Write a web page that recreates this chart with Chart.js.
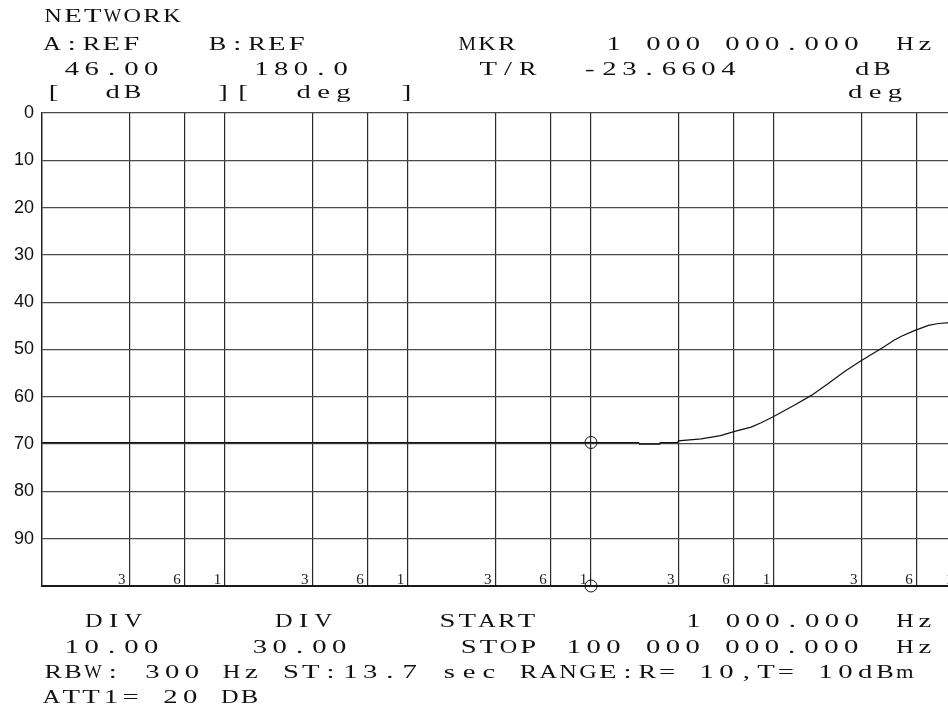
<!DOCTYPE html>
<html>
<head>
<meta charset="utf-8">
<title>NETWORK</title>
<script src="https://cdn.jsdelivr.net/npm/chart.js@4.4.1/dist/chart.umd.min.js"></script>
<style>
  html, body { margin: 0; padding: 0; background: #fff; overflow: hidden; }
  body { width: 948px; height: 711px; position: relative; }
  #wrap { position: absolute; left: 0; top: 0; width: 957px; height: 711px; }
  #plot { display: block; width: 957px; height: 711px; }
</style>
</head>
<body>
<div id="wrap"><canvas id="plot" width="957" height="711"></canvas></div>
<script>
// ---- instrument readouts ----
const REF_A = 46.00;          // dB
const REF_B = 180.0;          // deg
const DIV_A = 10.00;
const DIV_B = 30.00;
const MKR_FREQ = 1000000;     // Hz
const MKR_VALUE = -23.6604;   // dB (T/R)
const START_HZ = 1000;
const STOP_HZ = 100000000;

// ---- trace (frequency in Hz, level in screen units 0..100, downward) ----
const freqHz = [1e3, 1.82e6, 1.84e6, 2.37e6, 2.39e6, 2.98e6, 3.0e6, 4.0e6, 5.1e6, 6.1e6,
                7.5e6, 8.5e6, 9.9e6, 1.29e7, 1.6e7, 1.98e7, 2.42e7, 2.93e7, 3.53e7, 3.86e7,
                4.55e7, 4.97e7, 5.85e7, 6.98e7, 7.92e7, 9.1e7, 1e8];
const traceLevel = [69.7, 69.7, 70.0, 70.0, 69.7, 69.7, 69.3, 68.9, 68.2, 67.3,
                    66.4, 65.5, 64.2, 61.8, 59.7, 57.2, 54.7, 52.6, 50.7, 49.8,
                    48.0, 47.2, 46.0, 44.9, 44.5, 44.3, 44.2];

// ---- axes ----
const yTickLabels = ['0', '10', '20', '30', '40', '50', '60', '70', '80', '90'];
const gridFreqs = [3e3, 6e3, 1e4, 3e4, 6e4, 1e5, 3e5, 6e5, 1e6, 3e6, 6e6, 1e7, 3e7, 6e7, 1e8];

const tracePoints = freqHz.map((f, i) => ({ x: f, y: traceLevel[i] }));
const markerLevel = REF_A - MKR_VALUE;
const markerPoints = [{ x: MKR_FREQ, y: markerLevel }, { x: MKR_FREQ, y: 100 }];

function fmtHz(v) {
  const s = String(Math.round(v));
  const groups = [];
  for (let i = s.length; i > 0; i -= 3) groups.unshift(s.slice(Math.max(0, i - 3), i));
  return groups.join(' ') + '.000';
}

// readout panel: [text, centre x, baseline y]
const panel = [
  ['NETWORK', 112.5, 22],
  ['A:REF', 91.5, 50], ['B:REF', 257, 50], ['MKR', 487, 50],
  [fmtHz(MKR_FREQ), 732.5, 50], ['Hz', 915, 50],
  [REF_A.toFixed(2), 111.5, 75], [REF_B.toFixed(1), 301, 75], ['T/R', 508, 75],
  [MKR_VALUE.toFixed(4), 659, 75], ['dB', 872, 75],
  ['[', 53.5, 98], ['dB', 122.5, 98], ['][', 233, 98], ['deg', 323.5, 98],
  [']', 406.5, 98], ['deg', 875, 98],
  ['DIV', 113.5, 627], ['DIV', 303.5, 627], ['START', 487, 627],
  [fmtHz(START_HZ), 772.5, 627], ['Hz', 915, 627],
  [DIV_A.toFixed(2), 111.5, 653], [DIV_B.toFixed(2), 299.5, 653], ['STOP', 498.5, 653],
  [fmtHz(STOP_HZ), 712.5, 653], ['Hz', 915, 653],
  ['RBW: 300 Hz ST:13.7 sec RANGE:R= 10,T= 10dBm', 479, 678],
  ['ATT1= 20 DB', 150.5, 703]
];

// fixed-pitch, horizontally stretched plotter-style lettering
const PITCH = 19.8;
const panelText = {
  id: 'panelText',
  afterDraw(chart) {
    const { ctx } = chart;
    ctx.save();
    ctx.font = '18.5px "Liberation Serif", serif';
    ctx.fillStyle = '#111';
    ctx.textAlign = 'center';
    ctx.textBaseline = 'alphabetic';
    panel.forEach(([text, cx, y]) => {
      const chars = Array.from(text);
      const left = cx - chars.length * PITCH / 2;
      chars.forEach((ch, i) => {
        if (ch === ' ') return;
        const w = ctx.measureText(ch).width || 1;
        const k = Math.min(1.55, 17.5 / w);
        ctx.save();
        ctx.translate(left + (i + 0.5) * PITCH, y);
        ctx.scale(k, 1);
        ctx.fillText(ch, 0, 0);
        ctx.restore();
      });
    });
    ctx.restore();
  }
};

// small mantissa digits (3, 6, 1) at the foot of each frequency grid line
const decadeLabels = {
  id: 'decadeLabels',
  afterDatasetsDraw(chart) {
    const { ctx, chartArea, scales } = chart;
    ctx.save();
    ctx.font = '15px "Liberation Serif", serif';
    ctx.fillStyle = '#222';
    ctx.textAlign = 'center';
    ctx.textBaseline = 'alphabetic';
    gridFreqs.forEach(f => {
      const mant = Math.round(f / Math.pow(10, Math.floor(Math.log10(f) + 1e-9)));
      const x = scales.x.getPixelForValue(f);
      ctx.fillText(String(mant), x - 7.5, chartArea.bottom - 2);
    });
    ctx.restore();
  }
};

new Chart(document.getElementById('plot'), {
  type: 'line',
  data: {
    datasets: [
      {
        data: tracePoints,
        borderColor: '#111',
        borderWidth: 1.2,
        pointRadius: 0,
        tension: 0,
        fill: false
      },
      {
        type: 'scatter',
        data: markerPoints,
        pointStyle: 'circle',
        pointRadius: 6,
        borderColor: '#111',
        borderWidth: 1,
        backgroundColor: 'rgba(0,0,0,0)',
        clip: false
      }
    ]
  },
  options: {
    responsive: false,
    maintainAspectRatio: false,
    devicePixelRatio: 1,
    animation: false,
    events: [],
    layout: { autoPadding: false, padding: { left: 0, top: 113, right: 0, bottom: 125 } },
    plugins: { legend: { display: false }, tooltip: { enabled: false }, title: { display: false } },
    scales: {
      x: {
        type: 'logarithmic',
        min: START_HZ,
        max: STOP_HZ,
        afterBuildTicks: s => { s.ticks = gridFreqs.map(v => ({ value: v })); },
        afterFit: s => { s.height = 0; },
        ticks: { display: false },
        grid: { color: '#2a2a2a', lineWidth: 1.2, drawTicks: false },
        border: { display: true, color: '#1a1a1a', width: 2 }
      },
      y: {
        reverse: true,
        min: 0,
        max: 100,
        afterFit: s => { s.width = 42; },
        ticks: {
          stepSize: 10,
          padding: 8,
          color: '#111',
          font: { family: '"Liberation Sans", Arial, sans-serif', size: 18 },
          callback: v => yTickLabels[Math.round(v / 10)] ?? ''
        },
        grid: { color: '#4a4a4a', lineWidth: 1.2, drawTicks: false },
        border: { display: true, color: '#222', width: 1.5 }
      }
    }
  },
  plugins: [decadeLabels, panelText]
});
</script>
</body>
</html>
